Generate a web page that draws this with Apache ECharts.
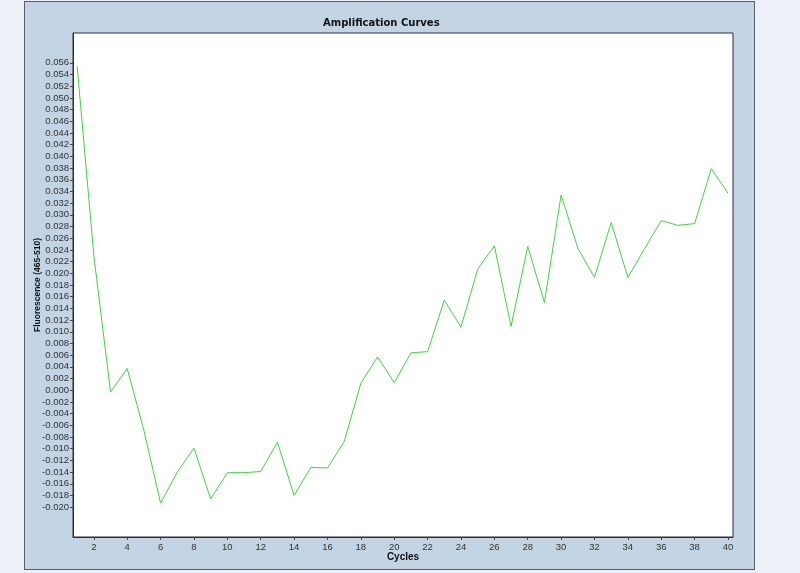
<!DOCTYPE html>
<html>
<head>
<meta charset="utf-8">
<script src="https://cdn.jsdelivr.net/npm/echarts@6/dist/echarts.min.js"></script>
<style>
  html, body { margin: 0; padding: 0; background: #eef0f8; }
  #panel {
    position: absolute; left: 24px; top: 1px;
    width: 729px; height: 567px;
    background: #c3d4e4;
    border: 1px solid #5a5e66;
  }
  #main { position: absolute; left: 0; top: 0; width: 800px; height: 573px; }
</style>
</head>
<body>
<div id="panel"></div>
<div id="main"></div>
<script>
// cycle numbers and the fluorescence
const cycles = [1, 2, 3, 4, 5, 6, 7, 8, 9, 10, 11, 12, 13, 14, 15, 16, 17, 18, 19, 20,
  21, 22, 23, 24, 25, 26, 27, 28, 29, 30, 31, 32, 33, 34, 35, 36, 37, 38, 39, 40];
const fluorescence = [0.0554, 0.0230, -0.0003, 0.0037, -0.0069, -0.0193, -0.0140, -0.0099, -0.0186, -0.0141,
  -0.0141, -0.0139, -0.0089, -0.0180, -0.0132, -0.0133, -0.0088, 0.0012, 0.0057, 0.0013,
  0.0064, 0.0066, 0.0154, 0.0108, 0.0207, 0.0247, 0.0109, 0.0246, 0.0150, 0.0334,
  0.0243, 0.0193, 0.0287, 0.0193, 0.0242, 0.0290, 0.0282, 0.0285, 0.0379, 0.0337];

const xTicks = [2, 4, 6, 8, 10, 12, 14, 16, 18, 20, 22, 24, 26, 28, 30, 32, 34, 36, 38, 40];
const yTicks = [-0.020, -0.018, -0.016, -0.014, -0.012, -0.010, -0.008, -0.006, -0.004, -0.002,
  0.000, 0.002, 0.004, 0.006, 0.008, 0.010, 0.012, 0.014, 0.016, 0.018,
  0.020, 0.022, 0.024, 0.026, 0.028, 0.030, 0.032, 0.034, 0.036, 0.038,
  0.040, 0.042, 0.044, 0.046, 0.048, 0.050, 0.052, 0.054, 0.056];

const chart = echarts.init(document.getElementById("main"));
const labelFont = "'Liberation Sans', Arial, sans-serif";

chart.setOption({
  animation: false,
  backgroundColor: "transparent",
  title: {
    text: "Amplification Curves",
    left: 318,
    top: 13,
    textStyle: { fontFamily: "DejaVu Sans", fontWeight: "bold", fontSize: 10, color: "#111" }
  },
  grid: {
    left: 73, top: 33, right: 67, bottom: 36,
    show: true,
    backgroundColor: "#fff",
    borderColor: "#2b2f36",
    borderWidth: 1
  },
  xAxis: {
    type: "value",
    min: 0.75,
    max: 40.3,
    name: "Cycles",
    nameLocation: "middle",
    nameGap: 15,
    nameMoveOverlap: false,
    nameTextStyle: { fontFamily: labelFont, fontWeight: "bold", fontSize: 10, color: "#111" },
    splitLine: { show: false },
    axisLine: { show: true, onZero: false, lineStyle: { color: "#2b2f36" } },
    axisTick: { show: true, length: 3, customValues: xTicks, lineStyle: { color: "#444" } },
    axisLabel: {
      customValues: xTicks,
      margin: 5,
      fontFamily: labelFont,
      fontSize: 9.5,
      color: "#333"
    }
  },
  yAxis: {
    type: "value",
    min: -0.0251,
    max: 0.0611,
    name: "Fluorescence (465-510)",
    nameLocation: "middle",
    nameGap: 31,
    nameMoveOverlap: false,
    nameTextStyle: { fontFamily: labelFont, fontWeight: "bold", fontSize: 8.5, color: "#111" },
    splitLine: { show: false },
    axisLine: { show: true, onZero: false, lineStyle: { color: "#2b2f36" } },
    axisTick: { show: true, length: 3, customValues: yTicks, lineStyle: { color: "#444" } },
    axisLabel: {
      customValues: yTicks,
      margin: 4,
      fontFamily: labelFont,
      fontSize: 9.5,
      color: "#333",
      formatter: v => v.toFixed(3)
    }
  },
  series: [{
    type: "line",
    data: cycles.map((c, i) => [c, fluorescence[i]]),
    showSymbol: false,
    lineStyle: { color: "#3fd43f", width: 1 },
    silent: true
  }]
});
</script>
</body>
</html>
